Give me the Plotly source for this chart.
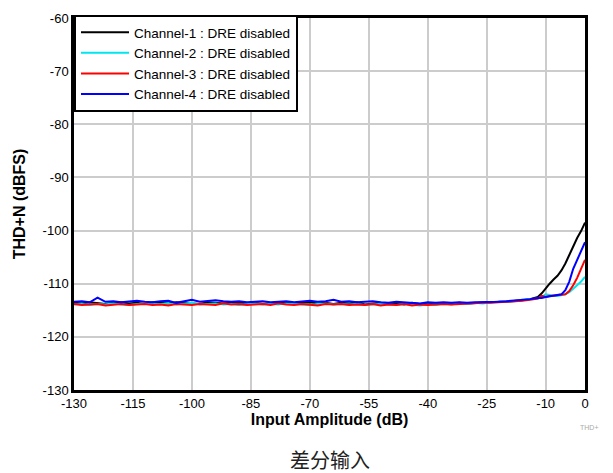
import plotly.graph_objects as go

# x positions (dB)
x_vals = list(range(-130, -11, 2)) + list(range(-11, 1))

ch1 = [-113.6,-113.7,-113.5,-113.6,-113.8,-113.6,-113.5,-113.7,-113.6,-113.8,
       -113.5,-113.6,-113.7,-113.5,-113.6,-113.6,-113.8,-113.5,-113.6,-113.7,
       -113.6,-113.5,-113.7,-113.6,-113.8,-113.6,-113.5,-113.6,-113.7,-113.6,
       -113.5,-113.7,-113.6,-113.8,-113.6,-113.7,-113.5,-113.9,-113.7,-113.6,
       -113.8,-113.7,-113.9,-113.6,-113.8,-113.7,-113.9,-113.7,-113.8,-113.6,
       -113.7,-113.6,-113.6,-113.5,-113.4,-113.4,-113.3,-113.1,-112.9,-112.5,
       -111.8,-110.8,-110.0,-109.2,-108.5,-107.5,-106.2,-104.6,-102.9,-101.4,-100.1,-98.5]

ch2 = [-113.9,-113.8,-114.0,-113.8,-113.9,-113.7,-113.9,-114.0,-113.8,-113.7,
       -113.9,-113.8,-113.7,-113.9,-113.8,-113.6,-113.9,-113.8,-113.7,-113.9,
       -113.8,-114.0,-113.8,-113.7,-113.9,-113.8,-113.9,-113.7,-113.8,-113.9,
       -114.0,-113.8,-113.7,-113.9,-113.8,-113.9,-113.8,-114.0,-113.9,-113.8,
       -113.9,-114.0,-113.8,-113.9,-114.1,-113.9,-114.0,-113.8,-113.9,-113.7,
       -113.8,-113.6,-113.7,-113.5,-113.5,-113.4,-113.3,-113.0,-112.9,-112.8,
       -112.5,-112.0,-112.1,-112.3,-112.3,-112.2,-112.0,-111.6,-111.0,-110.3,-109.6,-108.7]

ch3 = [-113.8,-114.0,-113.9,-113.8,-114.1,-113.9,-113.8,-114.0,-113.9,-113.8,
       -114.0,-113.9,-114.1,-113.8,-113.9,-114.0,-113.8,-113.9,-114.0,-113.7,
       -113.9,-113.8,-114.0,-113.9,-113.8,-114.0,-113.7,-113.9,-114.0,-113.8,
       -113.9,-114.1,-113.8,-113.9,-113.8,-114.0,-113.9,-114.0,-113.8,-114.1,
       -113.9,-114.0,-113.8,-114.1,-113.9,-114.0,-113.9,-113.8,-113.9,-113.8,
       -113.8,-113.7,-113.6,-113.6,-113.5,-113.4,-113.4,-113.2,-113.0,-112.8,
       -112.3,-112.5,-112.3,-112.2,-112.2,-112.1,-112.0,-111.4,-110.3,-108.9,-107.3,-105.5]

ch4 = [-113.4,-113.3,-113.5,-112.6,-113.4,-113.3,-113.5,-113.4,-113.2,-113.4,
       -113.5,-113.3,-113.2,-113.6,-113.3,-113.0,-113.4,-113.3,-113.1,-113.3,
       -113.4,-113.3,-113.5,-113.4,-113.3,-113.5,-113.4,-113.3,-113.5,-113.4,
       -113.2,-113.4,-113.3,-113.0,-113.4,-113.3,-113.5,-113.4,-113.3,-113.5,
       -113.6,-113.4,-113.5,-113.6,-113.7,-113.5,-113.6,-113.5,-113.6,-113.5,
       -113.6,-113.5,-113.5,-113.4,-113.4,-113.3,-113.2,-113.1,-112.9,-112.7,
       -112.7,-112.5,-112.4,-112.3,-112.2,-112.0,-111.2,-109.6,-107.2,-105.5,-104.0,-102.2]

names = ["Channel-1 : DRE disabled", "Channel-2 : DRE disabled",
         "Channel-3 : DRE disabled", "Channel-4 : DRE disabled"]
colors = ["#000000", "#00E5EE", "#FF0000", "#0000FF"]
x_ticks = [-130, -115, -100, -85, -70, -55, -40, -25, -10, 0]
y_ticks = [-130, -120, -110, -100, -90, -80, -70, -60]

fig = go.Figure()
for ys, n, c in zip([ch1, ch2, ch3, ch4], names, colors):
    fig.add_trace(go.Scatter(x=x_vals, y=ys, mode="lines", name=n,
                             line=dict(color=c, width=2)))

axis_common = dict(showgrid=True, gridcolor="#cccccc", gridwidth=1.5,
                   showline=True, linecolor="black", linewidth=2.5, mirror=True,
                   zeroline=False, ticks="", tickfont=dict(size=13, color="black"))

fig.update_layout(
    width=605, height=465,
    margin=dict(l=66, r=28, t=10, b=83, autoexpand=False),
    paper_bgcolor="white", plot_bgcolor="white",
    font=dict(family="Liberation Sans, Arial, sans-serif", color="black"),
    xaxis=dict(range=[-130, 0], tickvals=x_ticks, ticktext=[str(v) for v in x_ticks],
               title=dict(text="<b>Input Amplitude (dB)</b>", font=dict(size=16), standoff=3),
               **axis_common),
    yaxis=dict(range=[-130, -60], tickvals=y_ticks, ticktext=[str(v) for v in y_ticks],
               title=dict(text="<b>THD+N (dBFS)</b>", font=dict(size=16), standoff=14),
               **axis_common),
    legend=dict(x=0, y=1.008, xanchor="left", yanchor="top", bgcolor="white",
                bordercolor="black", borderwidth=2, font=dict(size=13.5),
                tracegroupgap=0, itemwidth=48),
    showlegend=True,
)

fig.add_annotation(text="THD+", xref="paper", yref="paper", x=1.008, y=-0.0995,
                   showarrow=False, font=dict(size=7, color="#aaaaaa"),
                   xanchor="center", yanchor="middle")
fig.add_annotation(text="差分输入", xref="paper", yref="paper", x=0.5, y=-0.188,
                   showarrow=False, font=dict(size=20, family="Noto Sans CJK SC", color="#222222"),
                   xanchor="center", yanchor="middle")

fig.write_html("out.html")
